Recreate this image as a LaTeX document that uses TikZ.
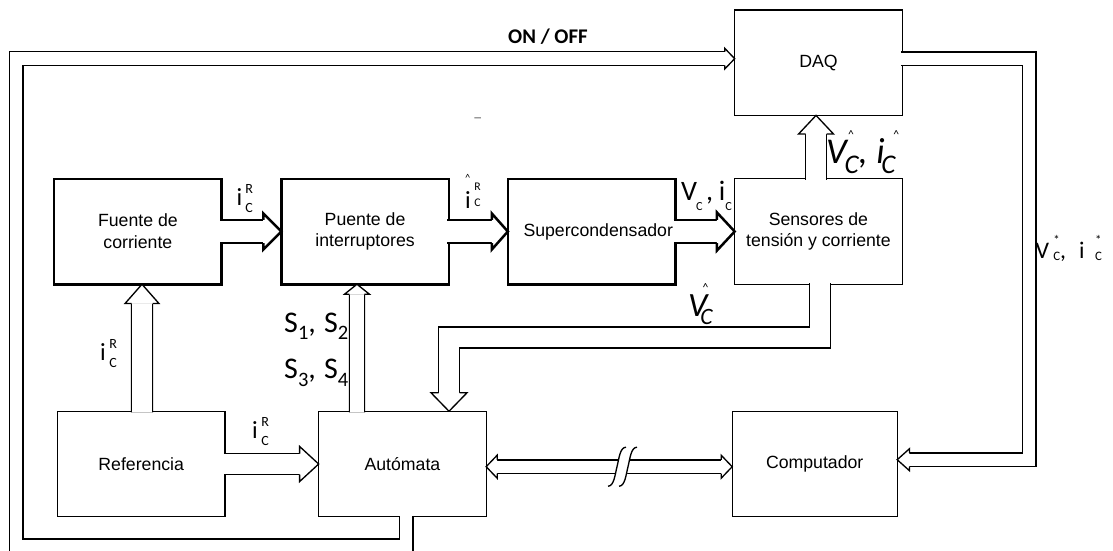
\documentclass[tikz,border=0pt]{standalone}
\usepackage{fontspec}
\setmainfont{Liberation Sans}
\newfontfamily\calib{Carlito}
\usetikzlibrary{positioning,calc}

% hand-set scripts and hats for the signal labels
\newcommand{\scr}[3]{\raisebox{#2}{\fontsize{#1}{#1}\selectfont #3}}
\newcommand{\scrs}[5]{\rlap{\scr{#1}{#2}{#3}}\scr{#1}{#4}{#5}}
\newcommand{\hatat}[3]{\rlap{\hspace*{#1}\raisebox{#2}{\fontsize{#3}{#3}\selectfont\textasciicircum}}}

\tikzset{
  box/.style={draw, rectangle, line width=0.04cm, minimum width=5.025cm, minimum height=3.165cm,
    inner sep=0pt, outer sep=0pt, align=center, font=\fontsize{15.1pt}{18.5pt}\selectfont},
  boxthick/.style={box, line width=0.075cm},
  bar/.style={double, double distance=#1, line width=0.04cm},
  barthick/.style={double, double distance=#1, line width=0.075cm},
  hdthin/.style={line width=0.04cm},
  hdthick/.style={line width=0.075cm},
  lbl/.style={inner sep=0pt, anchor=base west, font=\calib\fontsize{#1}{#1}\selectfont},
  pics/hd/.style n args={3}{code={
    \fill[white] (-#3,-#2) -- (0,0) -- (-#3,#2) -- cycle;
    \draw (-#3,-#1) -- (-#3,-#2) -- (0,0) -- (-#3,#2) -- (-#3,#1);
  }}
}

\begin{document}
\begin{tikzpicture}[x=0.03cm, y=-0.03cm]
    \useasboundingbox (0,0) rectangle (1113,550);

    % blocks
    \node [boxthick] (fuente) at (137.9,231.5) {Fuente de\\corriente};
    \node [boxthick, right=1.79cm of fuente] (puente) {Puente de\\interruptores};
    \node [boxthick, right=1.77cm of puente] (supercond) {\hspace*{0.4cm}Supercondensador};
    \node [box, right=1.78cm of supercond] (sensores) {Sensores de\\tensión y corriente};
    \node [box, above=1.9cm of sensores] (daq) {DAQ};
    \node [box, below=3.81cm of fuente, xshift=0.1cm] (referencia) {Referencia};
    \node [box, right=2.81cm of referencia] (automata) {Autómata};
    \node [box, minimum width=4.95cm, right=7.38cm of automata] (computador) {Computador};

    % power path
    \draw [barthick=0.62cm] ($(fuente.east)+(-1.6,0)$) -- ($(puente.west)+(-18,0)$);
    \pic [hdthick] at (puente.west) {hd={11.6}{18}{18}};
    \draw [barthick=0.62cm] ($(puente.east)+(-1.6,0)$) -- ($(supercond.west)+(-16,0)$);
    \pic [hdthick] at (supercond.west) {hd={11.6}{18}{16}};
    \draw [barthick=0.62cm] ($(supercond.east)+(-1.6,0)$) -- ($(sensores.west)+(-17.7,0)$);
    \pic [hdthick] at (sensores.west) {hd={11.6}{19}{17.7}};

    % measurements
    \draw [bar=0.59cm] ($(sensores.north)+(-2.4,1)$) -- ($(daq.south)+(-2.4,18.6)$);
    \pic [hdthin, rotate=90] at ($(daq.south)+(-2.4,0)$) {hd={10.5}{17.5}{18.6}};
    \draw [bar=0.59cm] ($(sensores.south)+(1.6,-1)$) -- ++(0,54.2) -| ($(automata.north)+(46.6,-18.5)$);
    \pic [hdthin, rotate=-90] at ($(automata.north)+(46.6,0)$) {hd={10.5}{18}{18.5}};

    % reference and switching
    \draw [bar=0.59cm] ($(referencia.north)+(0.8,1)$) -- ($(fuente.south)+(4.1,19.3)$);
    \pic [hdthin, rotate=90] at ($(fuente.south)+(4.1,0)$) {hd={10.5}{17}{19.3}};
    \draw [bar=0.59cm] ($(referencia.east)+(-1,0)$) -- ($(automata.west)+(-19,0)$);
    \pic [hdthin] at (automata.west) {hd={10.5}{17.5}{19}};
    \draw [bar=0.41cm] ($(automata.north)+(-45.4,1)$) -- ($(puente.south)+(-8.1,10)$);
    \pic [hdthin, rotate=90] at ($(puente.south)+(-8.1,0)$) {hd={7.5}{12.5}{10}};

    % link to the computer
    \draw [bar=0.37cm] ($(automata.east)+(11,2.7)$) -- ($(computador.west)+(-11,2.7)$);
    \pic [hdthin, rotate=180] at ($(automata.east)+(0,2.7)$) {hd={6.8}{11.5}{11}};
    \pic [hdthin] at ($(computador.west)+(0,2.7)$) {hd={6.8}{11.5}{11}};
    \coordinate (brk) at (622.5,466.7);
    \fill [white] ($(brk)+(-4,-7.6)$) -- ($(brk)+(7,-7.6)$) -- ($(brk)+(4.5,7.6)$) -- ($(brk)+(-6.5,7.6)$) -- cycle;
    \draw [line width=0.04cm] ($(brk)+(-14.5,19.5)$) .. controls +(6,0) and +(-2,8) .. ($(brk)+(-5.5,0)$) .. controls +(2,-8) and +(-6,0) .. ($(brk)+(3.5,-19.5)$);
    \draw [line width=0.04cm] ($(brk)+(-3.5,19.5)$) .. controls +(6,0) and +(-2,8) .. ($(brk)+(5.5,0)$) .. controls +(2,-8) and +(-6,0) .. ($(brk)+(14.5,-19.5)$);
    \draw [bar=0.37cm] ($(daq.east)+(-1,-3.9)$) -- ++(127.85,0) |- ($(computador.east)+(12.3,-4.3)$);
    \pic [hdthin, rotate=180] at ($(computador.east)+(0,-4.3)$) {hd={6.8}{11}{12.3}};

    % on / off loop
    \draw [bar=0.37cm] ($(automata.south)+(3.6,-1)$) |- (16,545.8) |- ($(daq.west)+(-10,-4)$);
    \pic [hdthin] at ($(daq.west)+(0,-4)$) {hd={6.8}{10.4}{10}};

    % labels
    \node [lbl=17.8pt] (onoff) at (508,43.3) {\bfseries ON / OFF};
    \node [lbl=16pt, text=gray] (dash) at (473,123) {–};
    \node [lbl=21pt] (irefa) at (100,360) {i\hspace{3pt}\scrs{12pt}{10.2pt}{R}{-6.8pt}{C}};
    \node [lbl=21pt] (irefb) at (236.5,205) {i\hspace{2.5pt}\scrs{12pt}{10.2pt}{R}{-6.8pt}{C}};
    \node [lbl=21pt] (irefc) at (252,438) {i\hspace{3pt}\scrs{12pt}{10.2pt}{R}{-6.8pt}{C}};
    \node [lbl=21pt] (ihat) at (465,208) {\hatat{0pt}{23pt}{9pt}i\hspace{3pt}\scrs{10pt}{15pt}{R}{1pt}{C}};
    \node [lbl=24pt] (vic) at (681,200.7) {V\hspace{-1pt}\scr{10.5pt}{-8pt}{C}\hspace{3pt},\hspace{5pt}i\scr{10.5pt}{-8pt}{C}};
    \node [lbl=31pt] (vihat) at (826,163.3) {\hatat{18.6pt}{21pt}{10pt}\hatat{57.3pt}{21pt}{10pt}\itshape V\hspace{-2pt}\scr{23pt}{-8.5pt}{C},\hspace{7.5pt}i\hspace{-3pt}\scr{23pt}{-8.5pt}{C}};
    \node [lbl=29pt] (vhat) at (688,316.7) {\hatat{12.3pt}{21.5pt}{10pt}\itshape V\hspace{-6pt}\scr{20pt}{-7pt}{C}};
    \node [lbl=25.6pt] (sab) at (284,332) {S\scr{17.5pt}{-6.8pt}{1},\hspace{7pt}S\scr{17.5pt}{-6.8pt}{2}};
    \node [lbl=25.6pt] (scd) at (284,378.3) {S\scr{17.5pt}{-6.8pt}{3},\hspace{7pt}S\scr{17.5pt}{-6.8pt}{4}};
    \node [lbl=20.3pt] (vistar) at (1035.5,258.3) {V\hspace{3.5pt}\scrs{11pt}{12pt}{*}{-1.5pt}{C},\hspace{11pt}i\hspace{9pt}\scrs{11pt}{12pt}{*}{-1.5pt}{C}};
\end{tikzpicture}
\end{document}
